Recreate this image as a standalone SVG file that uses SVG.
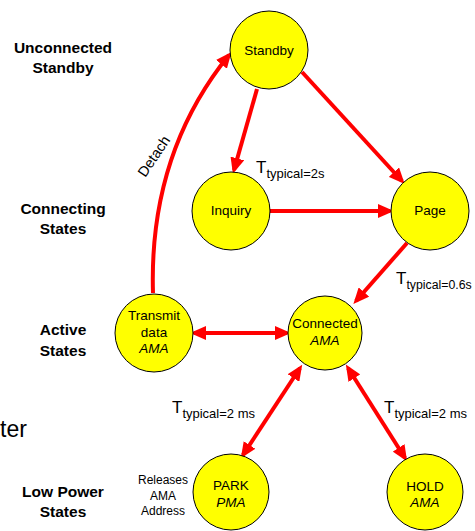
<svg xmlns="http://www.w3.org/2000/svg" width="475" height="531" viewBox="0 0 475 531">
<style>
.n{fill:#FFFF00;stroke:#000;stroke-width:1}
.t{font-family:"Liberation Sans",Arial,sans-serif;font-size:13.5px;text-anchor:middle;fill:#000}
.i{font-style:italic}
.h{font-family:"Liberation Sans",Arial,sans-serif;font-size:15.5px;font-weight:bold;text-anchor:middle;fill:#000}
.c{fill:none;stroke:#FF0000;stroke-width:4}
.lb{font-family:"Liberation Sans",Arial,sans-serif;fill:#000}
</style>
<defs>
<marker id="ah" markerUnits="userSpaceOnUse" markerWidth="16" markerHeight="14" refX="12" refY="7" orient="auto-start-reverse">
<path d="M0,0 L16,7 L0,14 z" fill="#FF0000"/>
</marker>
</defs>
<rect width="475" height="531" fill="#fff"/>
<g id="headings">
<text class="h" x="63" y="53">Unconnected</text>
<text class="h" x="63" y="73">Standby</text>
<text class="h" x="63" y="214">Connecting</text>
<text class="h" x="63" y="234">States</text>
<text class="h" x="63" y="335">Active</text>
<text class="h" x="63" y="356">States</text>
<text class="h" x="63" y="497">Low Power</text>
<text class="h" x="63" y="517">States</text>
<text class="lb" x="0" y="437" font-size="23">ter</text>
</g>
<g id="connectors">
<path class="c" d="M257,89 L234,170" marker-end="url(#ah)"/>
<path class="c" d="M302,72 L402,181" marker-end="url(#ah)"/>
<path class="c" d="M270,211 L390,211" marker-end="url(#ah)"/>
<path class="c" d="M407,243 L356,301" marker-end="url(#ah)"/>
<path class="c" d="M194,333 L287,333" marker-start="url(#ah)" marker-end="url(#ah)"/>
<path class="c" d="M300,368 L243,455" marker-start="url(#ah)" marker-end="url(#ah)"/>
<path class="c" d="M348,368 L405,458" marker-start="url(#ah)" marker-end="url(#ah)"/>
<path class="c" d="M153,293 C150,195 178,118 229,55" marker-end="url(#ah)"/>
</g>
<g id="labels" class="lb">
<text x="158" y="159" font-size="14.5" text-anchor="middle" transform="rotate(-56 158 159)">Detach</text>
<text x="256" y="173" font-size="17">T<tspan font-size="13" dy="5">typical=2s</tspan></text>
<text x="396" y="284" font-size="17">T<tspan font-size="12.3" dy="5">typical=0.6s</tspan></text>
<text x="172" y="413" font-size="17">T<tspan font-size="13" dy="5">typical=2 ms</tspan></text>
<text x="384" y="413" font-size="17">T<tspan font-size="13" dy="5">typical=2 ms</tspan></text>
<text x="163" y="484" font-size="12" text-anchor="middle">Releases</text>
<text x="163" y="500" font-size="12" text-anchor="middle">AMA</text>
<text x="163" y="515" font-size="12" text-anchor="middle">Address</text>
</g>
<g id="standby"><circle class="n" cx="269" cy="50" r="39"/><text class="t" x="269" y="55">Standby</text></g>
<g id="inquiry"><circle class="n" cx="231" cy="211" r="39"/><text class="t" x="231" y="215">Inquiry</text></g>
<g id="page"><circle class="n" cx="430" cy="211" r="39"/><text class="t" x="430" y="215">Page</text></g>
<g id="connected"><circle class="n" cx="325" cy="333" r="37"/><text class="t" x="325" y="328">Connected</text><text class="t i" x="325" y="345">AMA</text></g>
<g id="transmit"><circle class="n" cx="154" cy="333" r="39"/><text class="t" x="154" y="320">Transmit</text><text class="t" x="154" y="337">data</text><text class="t i" x="154" y="353">AMA</text></g>
<g id="park"><circle class="n" cx="231" cy="492" r="38"/><text class="t" x="231" y="490">PARK</text><text class="t i" x="231" y="507">PMA</text></g>
<g id="hold"><circle class="n" cx="425" cy="492" r="38"/><text class="t" x="425" y="491">HOLD</text><text class="t i" x="425" y="507">AMA</text></g>
</svg>
